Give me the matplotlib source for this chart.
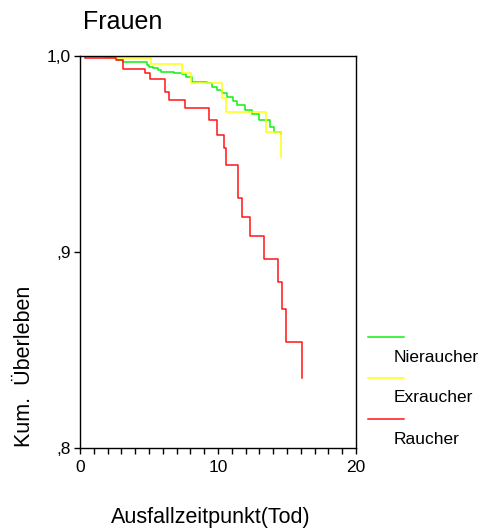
import matplotlib
matplotlib.use("Agg")
import matplotlib.pyplot as plt
from matplotlib.lines import Line2D

plt.rcParams['font.family'] = ['Liberation Sans', 'DejaVu Sans']

# Kaplan-Meier steps (time, survival after the drop)
nie_t = [0, 1.88, 2.66, 3.14, 3.67, 4.88, 5.0, 5.31, 5.67, 5.85, 6.81, 7.37, 7.68,
         8.09, 9.18, 9.54, 9.91, 10.27, 10.63, 11.11, 11.36, 11.96, 12.44, 12.99,
         13.77, 14.06, 14.55]
nie_s = [1.0, 0.9993, 0.998, 0.9971, 0.9968, 0.9954, 0.9942, 0.9937, 0.9929, 0.9917,
         0.9912, 0.9907, 0.9894, 0.9869, 0.9861, 0.9843, 0.9827, 0.981, 0.9792,
         0.977, 0.975, 0.9724, 0.9704, 0.9673, 0.9636, 0.9612, 0.9603]

ex_t = [0, 2.03, 5.12, 7.37, 8.02, 10.31, 10.56, 13.48, 14.54]
ex_s = [1.0, 0.9988, 0.9959, 0.9912, 0.9861, 0.9784, 0.9713, 0.9614, 0.9486]

rau_t = [0, 0.36, 2.59, 3.14, 4.71, 5.07, 6.16, 6.47, 7.61, 9.37, 9.91, 10.43,
         10.58, 11.47, 11.72, 12.32, 13.36, 14.37, 14.62, 14.93, 16.07]
rau_s = [1.0, 0.9991, 0.998, 0.9932, 0.9912, 0.9881, 0.9818, 0.9776, 0.9733, 0.9673,
         0.9597, 0.9529, 0.9444, 0.9277, 0.918, 0.9082, 0.8966, 0.8847, 0.8708,
         0.8542, 0.8356]

labels = ['Nieraucher', 'Exraucher', 'Raucher']
colors = ['#11f011', '#ffff11', '#ff1515']
yticks = [0.8, 0.9, 1.0]
ytick_labels = [',8', ',9', '1,0']
xticks = [0, 10, 20]

fig = plt.figure(figsize=(4.8, 5.31), dpi=100)
ax = fig.add_axes([80/480, 1-448/531, 276/480, 392/531])

for t, s, c in zip([nie_t, ex_t, rau_t], [nie_s, ex_s, rau_s], colors):
    ax.step(t, s, where='post', color=c, lw=1.1)

ax.set_xlim(0, 20)
ax.set_ylim(0.8, 1.0)
ax.set_xticks(xticks)
ax.set_xticks(range(0, 21), minor=True)
ax.set_yticks(yticks)
ax.set_yticklabels(ytick_labels)
ax.tick_params(axis='both', which='both', direction='out', length=4.5, width=1,
               labelsize=12.5, pad=2)
ax.tick_params(axis='x', which='major', pad=4)
for sp in ax.spines.values():
    sp.set_linewidth(1.0)
    sp.set_color('black')

fig.text(123/480, 1-22/531, 'Frauen', fontsize=18, ha='center', va='center')
fig.text(25/480, 1-366/531, 'Kum.  Überleben', fontsize=15.5, rotation=90,
         ha='center', va='center')
fig.text(211/480, 1-517/531, 'Ausfallzeitpunkt(Tod)', fontsize=15.5,
         ha='center', va='center')

# legend: line above its label
for i, (lab, c) in enumerate(zip(labels, colors)):
    y_line = 337 + i * 41
    fig.add_artist(Line2D([368/480, 404/480], [1-y_line/531, 1-y_line/531],
                          color=c, lw=1.1, transform=fig.transFigure))
    fig.text(394/480, 1-(y_line+20)/531, lab, fontsize=12.5, ha='left', va='center')

fig.savefig('out.png', dpi=100)
